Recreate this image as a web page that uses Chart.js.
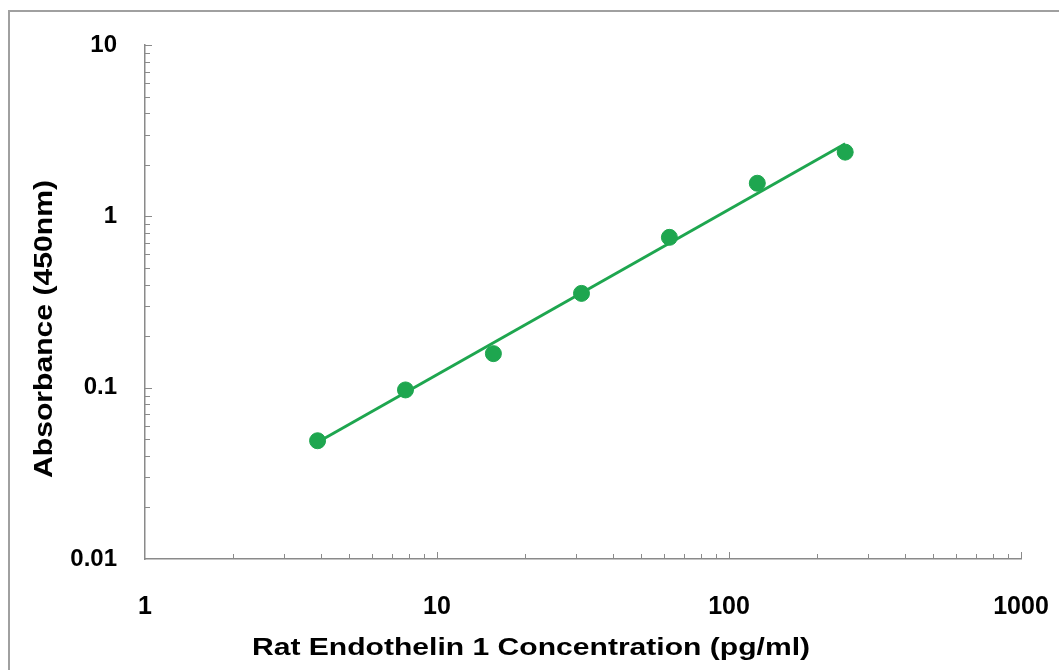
<!DOCTYPE html>
<html>
<head>
<meta charset="utf-8">
<script src="https://cdn.jsdelivr.net/npm/chart.js@4/dist/chart.umd.min.js"></script>
<style>
  html, body { margin: 0; padding: 0; background: #fff; }
  #wrap { position: relative; width: 1059px; height: 670px; overflow: hidden; }
  #frame { position: absolute; left: 8px; top: 10px; width: 1100px; height: 700px;
           border-left: 2px solid #a0a0a0; border-top: 2px solid #a0a0a0; box-sizing: border-box; }
  canvas { position: absolute; left: 0; top: 0; }
</style>
</head>
<body>
<div id="wrap">
  <div id="frame"></div>
  <canvas id="c" width="1059" height="670"></canvas>
</div>
<script>
// ---- data ----
const concentrations = [3.9, 7.8, 15.6, 31.25, 62.5, 125, 250];      // pg/ml
const absorbance     = [0.049, 0.097, 0.158, 0.355, 0.754, 1.56, 2.37]; // OD 450nm
const fitX = [3.9, 250];       // trend line ends
const fitY = [0.048, 2.65];
const xTickLabels = [1, 10, 100, 1000];
const yTickLabels = [0.01, 0.1, 1, 10];
const xTitle = 'Rat Endothelin 1 Concentration (pg/ml)';
const yTitle = 'Absorbance (450nm)';

const green = '#1ea64f';
const axisGrey = '#8a8a8a';

const pts = concentrations.map((x, i) => ({ x: x, y: absorbance[i] }));
const fit = fitX.map((x, i) => ({ x: x, y: fitY[i] }));

function isDecade(v, list) {
  return list.some(t => Math.abs(v - t) / t < 1e-6);
}

const minorTicks = {
  id: 'minorTicks',
  afterDraw(chart) {
    const ctx = chart.ctx;
    const xs = chart.scales.x, ys = chart.scales.y;
    ctx.save();
    ctx.strokeStyle = axisGrey;
    ctx.lineWidth = 1;
    for (let d = 1; d < 1000; d *= 10) {
      for (let m = 1; m <= 10; m++) {
        const v = d * m;
        if (v <= 1) continue;
        const px = Math.round(xs.getPixelForValue(v)) + 0.5;
        const len = (m === 10) ? 7 : 5;
        ctx.beginPath();
        ctx.moveTo(px, xs.top);
        ctx.lineTo(px, xs.top - len);
        ctx.stroke();
      }
    }
    for (let d = 0.01; d < 10 - 1e-9; d *= 10) {
      for (let m = 1; m <= 10; m++) {
        const v = d * m;
        if (v <= 0.01 + 1e-9) continue;
        const py = Math.round(ys.getPixelForValue(v)) + 0.5;
        const len = (m === 10) ? 7 : 5;
        ctx.beginPath();
        ctx.moveTo(ys.right, py);
        ctx.lineTo(ys.right + len, py);
        ctx.stroke();
      }
    }
    ctx.restore();
  }
};

const axisTitles = {
  id: 'axisTitles',
  afterDraw(chart) {
    const ctx = chart.ctx;
    ctx.save();
    ctx.fillStyle = '#000';
    ctx.textAlign = 'center';
    ctx.textBaseline = 'middle';
    ctx.font = 'bold 24px "Liberation Sans", Arial, sans-serif';
    let w = ctx.measureText(xTitle).width;
    let sx = 558 / w;
    ctx.save();
    ctx.translate(531, 648);
    ctx.scale(sx, 1);
    ctx.fillText(xTitle, 0, 0);
    ctx.restore();
    ctx.font = 'bold 25px "Liberation Sans", Arial, sans-serif';
    w = ctx.measureText(yTitle).width;
    sx = 298 / w;
    ctx.save();
    ctx.translate(45, 329);
    ctx.rotate(-Math.PI / 2);
    ctx.scale(sx, 1);
    ctx.fillText(yTitle, 0, 0);
    ctx.restore();
    ctx.restore();
  }
};

new Chart(document.getElementById('c'), {
  type: 'scatter',
  data: {
    datasets: [
      {
        label: 'fit',
        data: fit,
        showLine: true,
        borderColor: green,
        borderWidth: 3,
        pointRadius: 0,
        fill: false,
        order: 2
      },
      {
        label: 'standard',
        data: pts,
        backgroundColor: green,
        borderColor: green,
        pointRadius: 8,
        pointHoverRadius: 8,
        order: 1
      }
    ]
  },
  options: {
    responsive: false,
    animation: false,
    devicePixelRatio: 1,
    layout: { padding: { left: 0, right: 38, top: 45, bottom: 0 } },
    plugins: { legend: { display: false }, tooltip: { enabled: false }, title: { display: false } },
    scales: {
      x: {
        type: 'logarithmic',
        min: 1, max: 1000,
        position: 'bottom',
        grid: { display: false, drawTicks: false },
        border: { display: true, color: axisGrey, width: 1.5 },
        afterFit(scale) { scale.height = 111; scale.paddingLeft = 0; scale.paddingRight = 0; },
        ticks: {
          autoSkip: false,
          maxRotation: 0,
          padding: 33,
          color: '#000',
          font: { family: '"Liberation Sans", Arial, sans-serif', size: 25, weight: 'bold' },
          callback(v) { return isDecade(v, xTickLabels) ? String(v) : ''; }
        }
      },
      y: {
        type: 'logarithmic',
        min: 0.01, max: 10,
        position: 'left',
        grid: { display: false, drawTicks: false },
        border: { display: true, color: axisGrey, width: 1.5 },
        afterFit(scale) { scale.width = 145; scale.paddingTop = 0; scale.paddingBottom = 0; },
        ticks: {
          autoSkip: false,
          padding: 28,
          color: '#000',
          font: { family: '"Liberation Sans", Arial, sans-serif', size: 24, weight: 'bold' },
          callback(v) { return isDecade(v, yTickLabels) ? String(v) : ''; }
        }
      }
    }
  },
  plugins: [minorTicks, axisTitles]
});
</script>
</body>
</html>
